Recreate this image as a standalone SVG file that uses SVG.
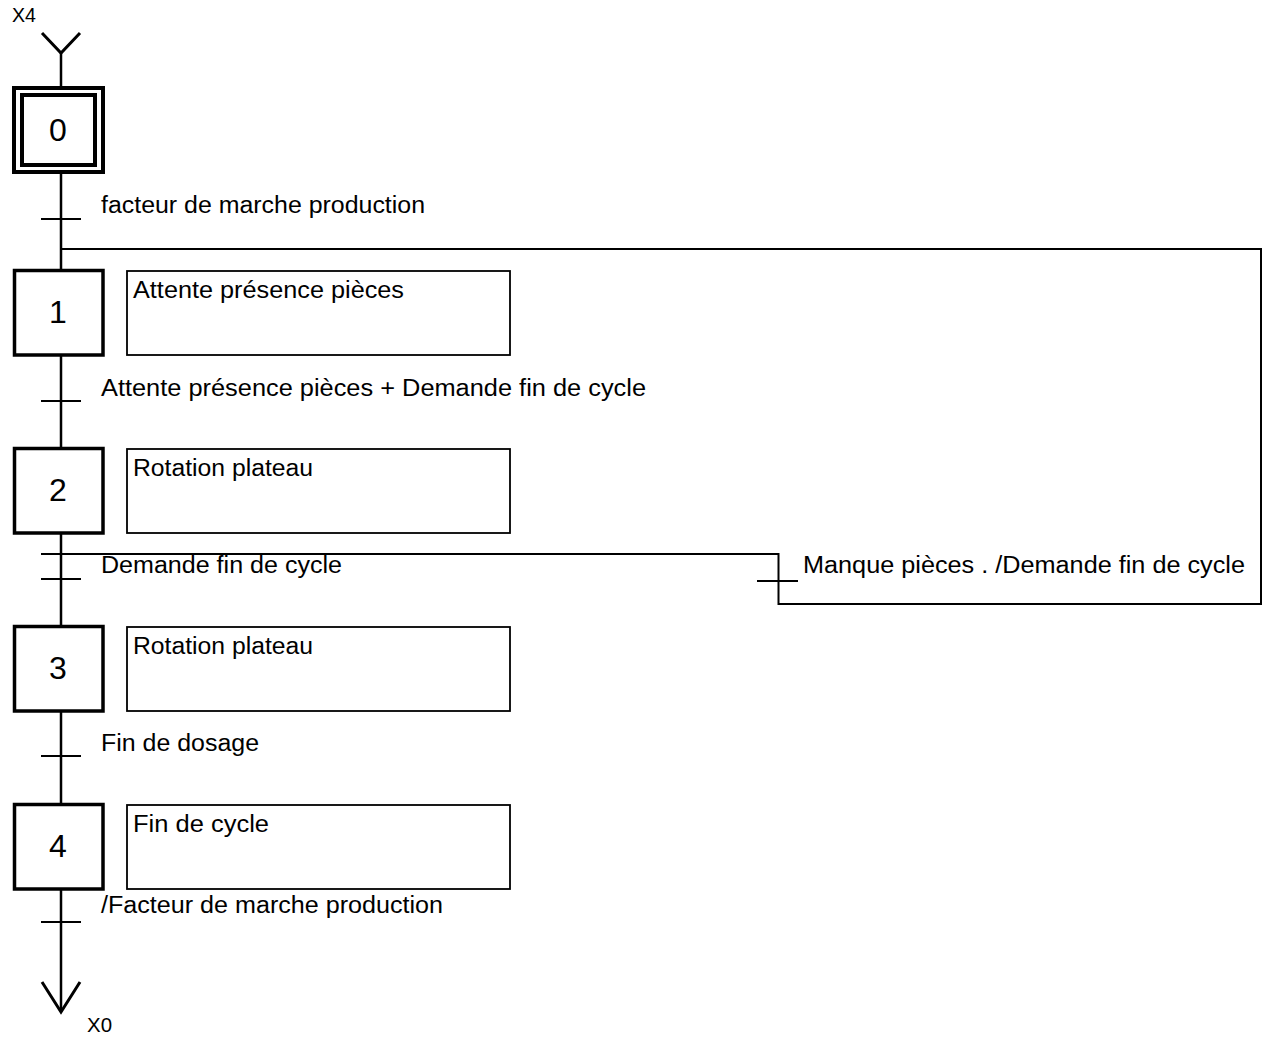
<svg xmlns="http://www.w3.org/2000/svg" width="1263" height="1037" viewBox="0 0 1263 1037">
<style>
.ln{stroke:#000;fill:none;stroke-width:2.5}
.th{stroke:#000;fill:none;stroke-width:2}
.step{fill:#fff;stroke:#000;stroke-width:3.5}
.act{fill:#fff;stroke:#000;stroke-width:1.8}
.lbl{font-family:"Liberation Sans",Arial,sans-serif;font-size:23px;fill:#000}
.num{font-family:"Liberation Sans",Arial,sans-serif;font-size:32px;fill:#000;text-anchor:middle}
.ref{font-family:"Liberation Sans",Arial,sans-serif;font-size:20px;fill:#000}
</style>
<rect width="1263" height="1037" fill="#fff"/>
<g id="connectors">
  <line class="ln" x1="61" y1="53" x2="61" y2="1012"/>
  <polyline class="ln" style="stroke-width:3" points="42,33 61,53 80,33"/>
  <polyline class="ln" style="stroke-width:3" points="42,982 61,1012 80,982"/>
  <line class="th" x1="41" y1="219" x2="81" y2="219"/>
  <line class="th" x1="41" y1="401" x2="81" y2="401"/>
  <line class="th" x1="41" y1="579" x2="81" y2="579"/>
  <line class="th" x1="41" y1="756" x2="81" y2="756"/>
  <line class="th" x1="41" y1="922" x2="81" y2="922"/>
  <polyline class="th" points="61,249 1261,249 1261,604 778.5,604 778.5,554 41,554"/>
  <line class="th" x1="757" y1="581" x2="798" y2="581"/>
  <text class="lbl" x="101" y="213" textLength="324" lengthAdjust="spacingAndGlyphs">facteur de marche production</text>
  <text class="lbl" x="101" y="396" textLength="545" lengthAdjust="spacingAndGlyphs">Attente présence pièces + Demande fin de cycle</text>
  <text class="lbl" x="101" y="573" textLength="241" lengthAdjust="spacingAndGlyphs">Demande fin de cycle</text>
  <text class="lbl" x="101" y="751" textLength="158" lengthAdjust="spacingAndGlyphs">Fin de dosage</text>
  <text class="lbl" x="101" y="913" textLength="342" lengthAdjust="spacingAndGlyphs">/Facteur de marche production</text>
  <text class="lbl" x="803" y="573" textLength="442" lengthAdjust="spacingAndGlyphs">Manque pièces . /Demande fin de cycle</text>
  <text class="ref" x="12" y="22" textLength="24" lengthAdjust="spacingAndGlyphs">X4</text>
  <text class="ref" x="87" y="1032" textLength="25" lengthAdjust="spacingAndGlyphs">X0</text>
</g>
<g id="step0">
  <rect class="step" x="14" y="88" width="89" height="84" style="stroke-width:4"/>
  <rect class="step" x="22" y="95" width="73" height="70" style="stroke-width:4"/>
  <text class="num" x="58" y="141">0</text>
</g>
<g id="step1">
  <rect class="step" x="14.5" y="270.5" width="88.5" height="84.5"/>
  <text class="num" x="58" y="323">1</text>
</g>
<g id="action1">
  <rect class="act" x="127" y="271" width="383" height="84"/>
  <text class="lbl" x="133" y="298" textLength="271" lengthAdjust="spacingAndGlyphs">Attente présence pièces</text>
</g>
<g id="step2">
  <rect class="step" x="14.5" y="448.5" width="88.5" height="84.5"/>
  <text class="num" x="58" y="501">2</text>
</g>
<g id="action2">
  <rect class="act" x="127" y="449" width="383" height="84"/>
  <text class="lbl" x="133" y="476" textLength="180" lengthAdjust="spacingAndGlyphs">Rotation plateau</text>
</g>
<g id="step3">
  <rect class="step" x="14.5" y="626.5" width="88.5" height="84.5"/>
  <text class="num" x="58" y="679">3</text>
</g>
<g id="action3">
  <rect class="act" x="127" y="627" width="383" height="84"/>
  <text class="lbl" x="133" y="654" textLength="180" lengthAdjust="spacingAndGlyphs">Rotation plateau</text>
</g>
<g id="step4">
  <rect class="step" x="14.5" y="804.5" width="88.5" height="84.5"/>
  <text class="num" x="58" y="857">4</text>
</g>
<g id="action4">
  <rect class="act" x="127" y="805" width="383" height="84"/>
  <text class="lbl" x="133" y="832" textLength="136" lengthAdjust="spacingAndGlyphs">Fin de cycle</text>
</g>
</svg>
